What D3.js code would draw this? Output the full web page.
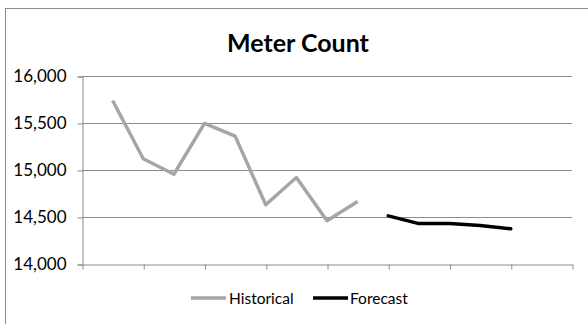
<!DOCTYPE html>
<html>
<head>
<meta charset="utf-8">
<script src="https://cdn.jsdelivr.net/npm/d3@7"></script>
<style>
  html, body { margin: 0; padding: 0; background: #fff; }
  svg { display: block; font-family: Lato, "Open Sans", sans-serif; }
</style>
</head>
<body>
<svg id="chart" width="588" height="324"></svg>
<script>
// Period positions on the category axis (0 and 16 are the axis ends)
const historicalPeriods = [1, 2, 3, 4, 5, 6, 7, 8, 9];
const historicalValues = [15740, 15120, 14955, 15495, 15360, 14630, 14920, 14460, 14665];
const forecastPeriods = [10, 11, 12, 13, 14];
const forecastValues = [14512, 14430, 14430, 14410, 14375];
const yTicks = [14000, 14500, 15000, 15500, 16000];
const xTickPeriods = [0, 2, 4, 6, 8, 10, 12, 14, 16];
const seriesNames = ["Historical", "Forecast"];

const svg = d3.select("#chart");

// Chart frame
svg.append("rect")
  .attr("x", 5.5).attr("y", 8.5)
  .attr("width", 600).attr("height", 330)
  .attr("fill", "#fff").attr("stroke", "#8c8c8c").attr("stroke-width", 1);

const plot = { left: 82, right: 572, top: 76, bottom: 264 };

const x = d3.scaleLinear().domain([0, 16]).range([plot.left, plot.right]);
const y = d3.scaleLinear().domain([14000, 16000]).range([plot.bottom, plot.top]);

// Title
svg.append("text")
  .attr("x", 298).attr("y", 52)
  .attr("text-anchor", "middle")
  .attr("font-size", 25).attr("font-weight", 700)
  .attr("fill", "#000")
  .text("Meter Count");

// Horizontal gridlines
svg.append("g")
  .selectAll("line")
  .data(yTicks.filter(v => v !== 14000))
  .join("line")
  .attr("x1", plot.left).attr("x2", plot.right)
  .attr("y1", d => Math.round(y(d)) + 0.5).attr("y2", d => Math.round(y(d)) + 0.5)
  .attr("stroke", "#8c8c8c").attr("stroke-width", 1);

// Y axis
const yAxis = svg.append("g")
  .attr("transform", `translate(${plot.left + 0.5},0.5)`)
  .call(d3.axisLeft(y).tickValues(yTicks).tickFormat(d3.format(",")).tickSize(5).tickPadding(11));
yAxis.select(".domain").attr("stroke", "#8c8c8c");
yAxis.selectAll(".tick line").attr("stroke", "#8c8c8c");
yAxis.selectAll("text").attr("font-size", 17).attr("fill", "#000")
  .attr("font-family", "Lato, 'Open Sans', sans-serif");

// X axis (tick marks only)
const xAxis = svg.append("g")
  .attr("transform", `translate(0.5,${plot.bottom + 0.5})`)
  .call(d3.axisBottom(x).tickValues(xTickPeriods).tickFormat("").tickSize(5).tickSizeOuter(0));
xAxis.select(".domain").attr("stroke", "#8c8c8c");
xAxis.selectAll(".tick line").attr("stroke", "#8c8c8c");

// Series lines
const line = d3.line().x(d => x(d[0])).y(d => y(d[1]));

svg.append("path")
  .datum(historicalPeriods.map((p, i) => [p, historicalValues[i]]))
  .attr("d", line)
  .attr("fill", "none").attr("stroke", "#a6a6a6")
  .attr("stroke-width", 3.5).attr("stroke-linejoin", "round");

svg.append("path")
  .datum(forecastPeriods.map((p, i) => [p, forecastValues[i]]))
  .attr("d", line)
  .attr("fill", "none").attr("stroke", "#000")
  .attr("stroke-width", 3.5).attr("stroke-linejoin", "round").attr("stroke-linecap", "round");

// Legend
const legendItems = [
  { name: seriesNames[0], color: "#a6a6a6", x1: 191, x2: 226, tx: 229 },
  { name: seriesNames[1], color: "#000", x1: 313, x2: 348, tx: 350 }
];
const legend = svg.append("g");
legend.selectAll("line")
  .data(legendItems)
  .join("line")
  .attr("x1", d => d.x1).attr("x2", d => d.x2)
  .attr("y1", 298).attr("y2", 298)
  .attr("stroke", d => d.color).attr("stroke-width", 3.5);
legend.selectAll("text")
  .data(legendItems)
  .join("text")
  .attr("x", d => d.tx).attr("y", 303.5)
  .attr("font-size", 15.5).attr("fill", "#000")
  .text(d => d.name);
</script>
</body>
</html>
